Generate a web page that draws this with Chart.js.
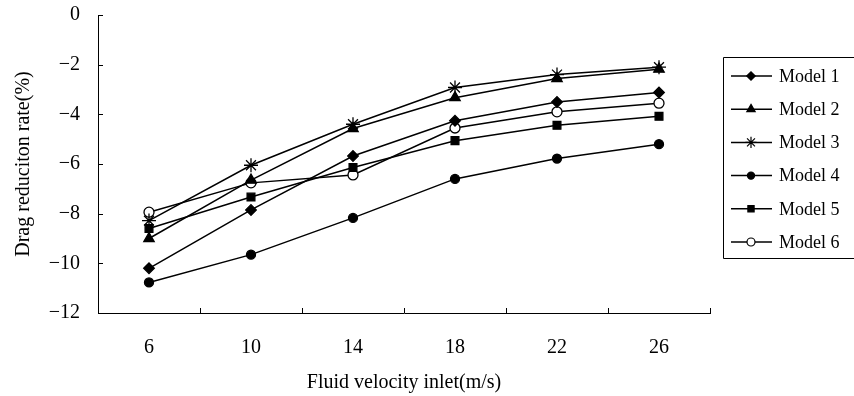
<!DOCTYPE html>
<html>
<head>
<meta charset="utf-8">
<script src="https://cdn.jsdelivr.net/npm/chart.js@4/dist/chart.umd.min.js"></script>
<style>
html,body{margin:0;padding:0;background:#fff;}
#wrap{width:854px;height:396px;position:relative;}
</style>
</head>
<body>
<div id="wrap"><canvas id="c" width="854" height="396"></canvas></div>
<script>
const categories = ['6','10','14','18','22','26'];
const model1 = [-10.2, -7.85, -5.68, -4.26, -3.5, -3.12];
const model2 = [-9.0, -6.65, -4.57, -3.33, -2.56, -2.18];
const model3 = [-8.28, -6.05, -4.4, -2.92, -2.4, -2.1];
const model4 = [-10.77, -9.65, -8.17, -6.6, -5.78, -5.2];
const model5 = [-8.6, -7.33, -6.14, -5.06, -4.44, -4.08];
const model6 = [-7.94, -6.76, -6.44, -4.55, -3.9, -3.55];
const seriesNames = ['Model 1','Model 2','Model 3','Model 4','Model 5','Model 6'];
const yTicks = [0, -2, -4, -6, -8, -10, -12];

const FONT = '"Liberation Serif", "Times New Roman", serif';
const styles = [
  {pointStyle:'rectRot', r:5.3, fill:'#000'},
  {pointStyle:'triangle', r:6, fill:'#000'},
  {pointStyle:'star', r:7, fill:'#000'},
  {pointStyle:'circle', r:4.5, fill:'#000'},
  {pointStyle:'rect', r:5.5, fill:'#000'},
  {pointStyle:'circle', r:5, fill:'#fff'}
];
const allData = [model1, model2, model3, model4, model5, model6];

const datasets = allData.map((d, i) => ({
  label: seriesNames[i],
  data: d,
  borderColor: '#000',
  borderWidth: 1.5,
  pointStyle: styles[i].pointStyle,
  pointRadius: styles[i].r,
  pointBackgroundColor: styles[i].fill,
  pointBorderColor: '#000',
  pointBorderWidth: 1.3,
  tension: 0,
  fill: false
}));

const innerTicks = {
  id: 'innerTicks',
  afterDraw(chart) {
    const ctx = chart.ctx;
    const ca = chart.chartArea;
    const x = chart.scales.x, y = chart.scales.y;
    ctx.save();
    ctx.strokeStyle = '#000';
    ctx.lineWidth = 1;
    yTicks.forEach(v => {
      const py = Math.round(y.getPixelForValue(v)) + 0.5;
      ctx.beginPath();
      ctx.moveTo(ca.left, py);
      ctx.lineTo(ca.left + 5, py);
      ctx.stroke();
    });
    const step = x.getPixelForValue(1) - x.getPixelForValue(0);
    for (let i = 0; i < categories.length; i++) {
      const px = Math.round(x.getPixelForValue(i) + step / 2) + 0.5;
      ctx.beginPath();
      ctx.moveTo(px, ca.bottom);
      ctx.lineTo(px, ca.bottom - 5);
      ctx.stroke();
    }
    ctx.restore();
  }
};

const boxLegend = {
  id: 'boxLegend',
  afterDraw(chart) {
    const ctx = chart.ctx;
    ctx.save();
    const left = 723.5, top = 57.5, bottom = 258.5;
    ctx.strokeStyle = '#000';
    ctx.lineWidth = 1;
    ctx.beginPath();
    ctx.moveTo(870, top);
    ctx.lineTo(left, top);
    ctx.lineTo(left, bottom);
    ctx.lineTo(870, bottom);
    ctx.stroke();
    ctx.font = '18px ' + FONT;
    ctx.textBaseline = 'middle';
    ctx.textAlign = 'left';
    chart.data.datasets.forEach((ds, i) => {
      const cy = 76 + i * 33.2;
      ctx.strokeStyle = '#000';
      ctx.lineWidth = 1.5;
      ctx.beginPath();
      ctx.moveTo(731, cy);
      ctx.lineTo(772, cy);
      ctx.stroke();
      ctx.fillStyle = ds.pointBackgroundColor;
      ctx.strokeStyle = '#000';
      ctx.lineWidth = 1.2;
      Chart.helpers.drawPoint(ctx, {pointStyle: ds.pointStyle, radius: ds.pointRadius * 0.8, borderWidth: 1.2}, 751, cy);
      ctx.fillStyle = '#000';
      ctx.fillText(ds.label, 779, cy + 1);
    });
    ctx.restore();
  }
};

new Chart(document.getElementById('c'), {
  type: 'line',
  data: { labels: categories, datasets },
  options: {
    responsive: false,
    animation: false,
    layout: { padding: { top: 15, right: 144, left: 0, bottom: 0 } },
    plugins: { legend: { display: false }, tooltip: { enabled: false } },
    scales: {
      x: {
        offset: true,
        grid: { display: false, drawTicks: false },
        border: { display: true, color: '#000', width: 1 },
        ticks: { color: '#000', font: { family: FONT, size: 20 }, padding: 23 },
        title: { display: true, text: 'Fluid velocity inlet(m/s)', color: '#000', font: { family: FONT, size: 20 }, padding: { top: 4, bottom: 1 } },
        afterFit(s) { s.height = 83; s.paddingLeft = 0; s.paddingRight = 0; }
      },
      y: {
        min: -12, max: 0,
        afterBuildTicks(s) { s.ticks = yTicks.map(v => ({ value: v })); },
        grid: { display: false, drawTicks: false },
        border: { display: true, color: '#000', width: 1 },
        ticks: {
          color: '#000', font: { family: FONT, size: 20 }, padding: 18,
          callback: v => String(v).replace('-', '\u2212')
        },
        title: { display: true, text: 'Drag reduciton rate(%)', color: '#000', font: { family: FONT, size: 20 }, padding: { top: 12, bottom: 4 } },
        afterFit(s) { s.width = 98; s.paddingTop = 0; s.paddingBottom = 0; }
      }
    }
  },
  plugins: [innerTicks, boxLegend]
});
</script>
</body>
</html>
